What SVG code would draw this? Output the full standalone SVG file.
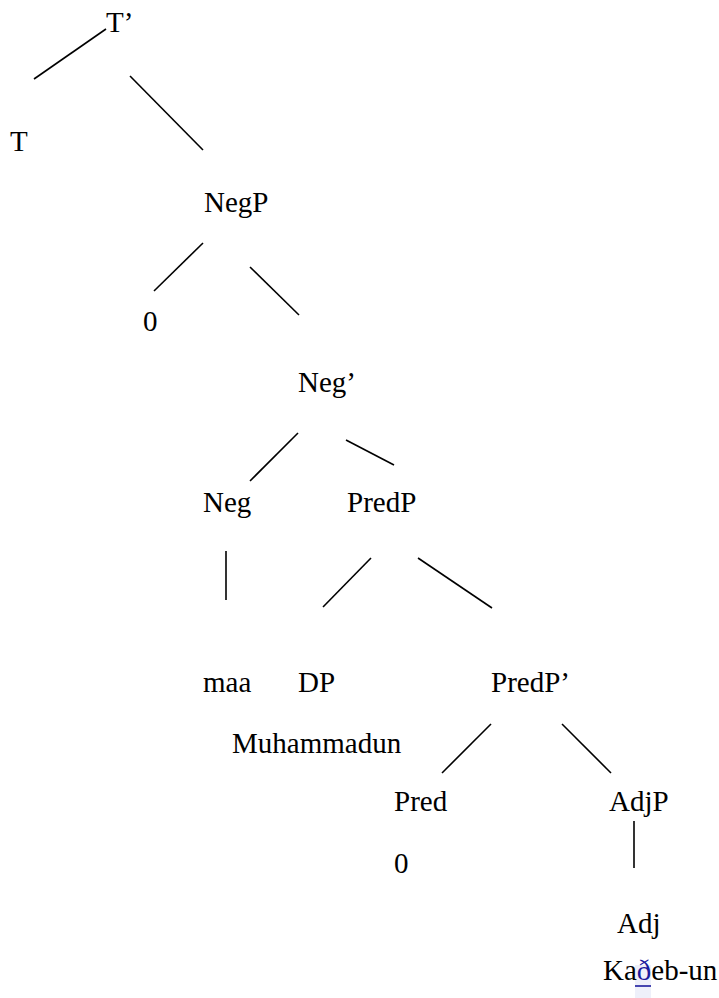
<svg xmlns="http://www.w3.org/2000/svg" width="719" height="998" viewBox="0 0 719 998">
  <style>
    text { font-family: "Liberation Serif", Tinos, "Times New Roman", Times, "DejaVu Serif", serif; font-size: 29px; fill: #000; }
    .edge { stroke: #000; stroke-width: 1.6; fill: none; }
    .link { fill: #1b1b9e; }
  </style>
  <rect width="719" height="998" fill="#fff"/>

  <!-- tree branches -->
  <g id="connectors">
    <line class="edge" x1="34" y1="79" x2="106" y2="29"/>
    <line class="edge" x1="130" y1="76" x2="203" y2="150"/>
    <line class="edge" x1="154" y1="291" x2="203" y2="243"/>
    <line class="edge" x1="250" y1="267" x2="299" y2="315"/>
    <line class="edge" x1="250" y1="481" x2="298" y2="433"/>
    <line class="edge" x1="346" y1="440" x2="394" y2="465"/>
    <line class="edge" x1="226" y1="551" x2="226" y2="600"/>
    <line class="edge" x1="323" y1="607" x2="371" y2="558"/>
    <line class="edge" x1="418" y1="558" x2="492" y2="608"/>
    <line class="edge" x1="442" y1="773" x2="491" y2="724"/>
    <line class="edge" x1="562" y1="724" x2="611" y2="773"/>
    <line class="edge" x1="634" y1="821" x2="634" y2="868"/>
  </g>

  <g id="node-Tbar"><text x="106" y="32">T’</text></g>
  <g id="node-T"><text x="10" y="151">T</text></g>
  <g id="node-NegP"><text x="204" y="212">NegP</text></g>
  <g id="node-NegP-spec"><text x="143" y="331">0</text></g>
  <g id="node-Negbar"><text x="298" y="392">Neg’</text></g>
  <g id="node-Neg"><text x="203" y="512">Neg</text></g>
  <g id="node-PredP"><text x="347" y="512">PredP</text></g>
  <g id="node-maa"><text x="203" y="692">maa</text></g>
  <g id="node-DP">
    <text x="298" y="692">DP</text>
    <text x="232" y="753">Muhammadun</text>
  </g>
  <g id="node-PredPbar"><text x="491" y="692">PredP’</text></g>
  <g id="node-Pred">
    <text x="394" y="811">Pred</text>
    <text x="394" y="873">0</text>
  </g>
  <g id="node-AdjP"><text x="609" y="811">AdjP</text></g>
  <g id="node-Adj">
    <text x="617" y="933">Adj</text>
    <rect x="635" y="965" width="16" height="33" fill="#eef0fa"/>
    <text x="603" y="980">Ka<tspan class="link">ð</tspan>eb-un</text>
    <line x1="635" y1="986" x2="651" y2="986" stroke="#1b1b9e" stroke-width="1.6"/>
  </g>
</svg>
